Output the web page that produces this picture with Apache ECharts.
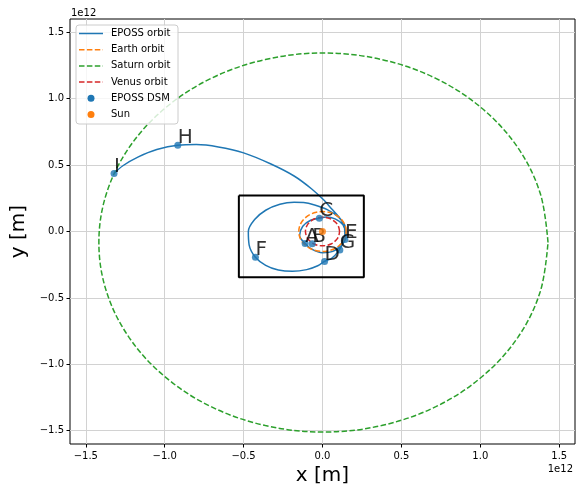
<!DOCTYPE html>
<html>
<head>
<meta charset="utf-8">
<script src="https://cdn.jsdelivr.net/npm/echarts@6/dist/echarts.min.js"></script>
<style>
  html, body { margin: 0; padding: 0; background: #ffffff; }
  #chart { width: 576px; height: 488px; }
</style>
</head>
<body>
<div id="chart"></div>
<script>
// All positions are in units of 1e12 m (heliocentric ecliptic frame).
const xTickValues = [-1.5, -1.0, -0.5, 0.0, 0.5, 1.0, 1.5];
const yTickValues = [-1.5, -1.0, -0.5, 0.0, 0.5, 1.0, 1.5];
const axisScaleText = '1e12';

// Spacecraft trajectory: inner loops near Earth, resonant loop, then transfer arc out to Saturn.
const epossOrbit = [
  [0.120, -0.090], [0.145, -0.020], [0.130, 0.050], [0.080, 0.095], [0.025, 0.110],
  [-0.020, 0.100], [-0.075, 0.085], [-0.125, 0.040], [-0.145, -0.030], [-0.110, -0.090],
  [-0.065, -0.135], [0.000, -0.160], [0.065, -0.150], [0.120, -0.105], [0.150, -0.030],
  [0.140, 0.050], [0.100, 0.110], [0.030, 0.165], [-0.050, 0.200], [-0.120, 0.218],
  [-0.180, 0.220], [-0.270, 0.205], [-0.360, 0.160], [-0.430, 0.090], [-0.470, 0.000],
  [-0.465, -0.100], [-0.425, -0.194], [-0.360, -0.255], [-0.280, -0.290], [-0.190, -0.300],
  [-0.100, -0.287], [-0.030, -0.258], [0.013, -0.225], [0.060, -0.200], [0.100, -0.150],
  [0.128, -0.093], [0.142, -0.020], [0.133, 0.055], [0.100, 0.115], [0.062, 0.165],
  [0.010, 0.235], [-0.070, 0.322], [-0.180, 0.418], [-0.330, 0.510], [-0.500, 0.592],
  [-0.660, 0.637], [-0.800, 0.655], [-0.917, 0.650], [-1.050, 0.617], [-1.170, 0.560],
  [-1.265, 0.495], [-1.321, 0.436]
];

const earthOrbit = [
  [0.150, 0.000], [0.145, 0.039], [0.130, 0.075], [0.106, 0.106], [0.075, 0.130],
  [0.039, 0.145], [0.000, 0.150], [-0.039, 0.145], [-0.075, 0.130], [-0.106, 0.106],
  [-0.130, 0.075], [-0.145, 0.039], [-0.150, 0.000], [-0.145, -0.039], [-0.130, -0.075],
  [-0.106, -0.106], [-0.075, -0.130], [-0.039, -0.145], [0.000, -0.150], [0.039, -0.145],
  [0.075, -0.130], [0.106, -0.106], [0.130, -0.075], [0.145, -0.039], [0.150, 0.000]
];

const saturnOrbit = [
  [1.429, -0.083], [1.380, 0.286], [1.238, 0.631], [1.012, 0.926], [0.718, 1.153],
  [0.374, 1.295], [0.006, 1.344], [-0.362, 1.295], [-0.706, 1.153], [-1.000, 0.926],
  [-1.226, 0.631], [-1.369, 0.286], [-1.417, -0.083], [-1.369, -0.452], [-1.226, -0.797],
  [-1.000, -1.092], [-0.706, -1.319], [-0.362, -1.461], [0.006, -1.510], [0.374, -1.461],
  [0.718, -1.319], [1.012, -1.092], [1.238, -0.797], [1.380, -0.452], [1.429, -0.083]
];

const venusOrbit = [
  [0.108, 0.000], [0.104, 0.028], [0.094, 0.054], [0.076, 0.076], [0.054, 0.094],
  [0.028, 0.104], [0.000, 0.108], [-0.028, 0.104], [-0.054, 0.094], [-0.076, 0.076],
  [-0.094, 0.054], [-0.104, 0.028], [-0.108, 0.000], [-0.104, -0.028], [-0.094, -0.054],
  [-0.076, -0.076], [-0.054, -0.094], [-0.028, -0.104], [0.000, -0.108], [0.028, -0.104],
  [0.054, -0.094], [0.076, -0.076], [0.094, -0.054], [0.104, -0.028], [0.108, 0.000]
];

// Deep-space manoeuvre points
const dsmNames = ['A', 'B', 'C', 'D', 'E', 'F', 'G', 'H', 'I'];
const dsmX = [-0.110, -0.065, -0.020, 0.013, 0.142, -0.425, 0.110, -0.917, -1.321];
const dsmY = [-0.090, -0.092, 0.100, -0.225, -0.060, -0.194, -0.140, 0.650, 0.436];

const sunPosition = [[0.0, 0.0]];

// Inner-system zoom frame
const frameCorners = [[-0.530, 0.272], [0.262, 0.272], [0.262, -0.345], [-0.530, -0.345], [-0.530, 0.272]];

const C_BLUE = '#1f77b4', C_ORANGE = '#ff7f0e', C_GREEN = '#2ca02c', C_RED = '#d62728';
const DASH = [5.5, 2.4];
const FONT = 'DejaVu Sans';

function tickFmt(v) {
  const s = Math.abs(v).toFixed(1);
  return v < -1e-9 ? '\u2212' + s : s;
}

function orbitSeries(name, data, color, dashed, z) {
  return {
    name: name, type: 'line', data: data, showSymbol: false, smooth: 0.35,
    clip: true, z: z, animation: false,
    lineStyle: { color: color, width: 1.5, type: dashed ? DASH : 'solid' }
  };
}

const legendItems = [
  { kind: 'line', color: C_BLUE, dashed: false, text: 'EPOSS orbit' },
  { kind: 'line', color: C_ORANGE, dashed: true, text: 'Earth orbit' },
  { kind: 'line', color: C_GREEN, dashed: true, text: 'Saturn orbit' },
  { kind: 'line', color: C_RED, dashed: true, text: 'Venus orbit' },
  { kind: 'dot', color: C_BLUE, text: 'EPOSS DSM' },
  { kind: 'dot', color: C_ORANGE, text: 'Sun' }
];

// Legend drawn as graphic elements, in pixel offsets from its top-left corner
const LX = 76, LY = 25, LZ = 100;
const legendElements = [{
  type: 'rect', z: LZ, x: LX, y: LY,
  shape: { x: 0, y: 0, width: 102, height: 99, r: 3 },
  style: { fill: 'rgba(255,255,255,0.8)', stroke: '#cccccc', lineWidth: 1 }
}];
legendItems.forEach(function (it, i) {
  const cy = LY + 8.5 + i * 16.2;
  if (it.kind === 'line') {
    legendElements.push({
      type: 'line', z: LZ + 1,
      shape: { x1: LX + 3, y1: cy, x2: LX + 27, y2: cy },
      style: { stroke: it.color, lineWidth: 1.5, lineDash: it.dashed ? DASH : null }
    });
  } else {
    legendElements.push({
      type: 'circle', z: LZ + 1,
      shape: { cx: LX + 15, cy: cy, r: 3.5 },
      style: { fill: it.color }
    });
  }
  legendElements.push({
    type: 'text', z: LZ + 1, x: LX + 35, y: cy,
    style: { text: it.text, fontFamily: FONT, fontSize: 10, fill: '#000', verticalAlign: 'middle', align: 'left' }
  });
});

const chart = echarts.init(document.getElementById('chart'), null, { renderer: 'canvas' });

chart.setOption({
  animation: false,
  backgroundColor: '#ffffff',
  grid: {
    left: 70, right: 1, top: 19, bottom: 44,
    outerBoundsMode: 'none', containLabel: false,
    show: true, borderColor: '#000000', borderWidth: 1, backgroundColor: 'transparent'
  },
  xAxis: {
    type: 'value', min: -1.6, max: 1.6,
    name: 'x [m]', nameLocation: 'middle', nameGap: 20,
    nameTextStyle: { fontFamily: FONT, fontSize: 20, color: '#000' },
    axisLine: { show: false, onZero: false },
    axisTick: { show: true, length: 3.5, lineStyle: { color: '#000', width: 1 }, customValues: xTickValues },
    axisLabel: { customValues: xTickValues, formatter: tickFmt, fontFamily: FONT, fontSize: 10, color: '#000', margin: 7 },
    splitLine: { show: true, lineStyle: { color: '#d2d2d2', width: 1 } }
  },
  yAxis: {
    type: 'value', min: -1.6, max: 1.6,
    name: 'y [m]', nameLocation: 'middle', nameGap: 38,
    nameTextStyle: { fontFamily: FONT, fontSize: 20, color: '#000' },
    axisLine: { show: false, onZero: false },
    axisTick: { show: true, length: 3.5, lineStyle: { color: '#000', width: 1 }, customValues: yTickValues },
    axisLabel: { customValues: yTickValues, formatter: tickFmt, fontFamily: FONT, fontSize: 10, color: '#000', margin: 6 },
    splitLine: { show: true, lineStyle: { color: '#d2d2d2', width: 1 } }
  },
  series: [
    orbitSeries('EPOSS orbit', epossOrbit, C_BLUE, false, 3),
    orbitSeries('Earth orbit', earthOrbit, C_ORANGE, true, 4),
    orbitSeries('Saturn orbit', saturnOrbit, C_GREEN, true, 5),
    orbitSeries('Venus orbit', venusOrbit, C_RED, true, 6),
    {
      name: 'EPOSS DSM', type: 'scatter', z: 7, symbolSize: 7,
      itemStyle: { color: C_BLUE },
      data: dsmNames.map(function (n, i) { return { name: n, value: [dsmX[i], dsmY[i]] }; }),
      label: {
        show: true, formatter: '{b}', position: [3.5, 3.5], offset: [0, 3],
        align: 'left', verticalAlign: 'bottom',
        fontFamily: FONT, fontSize: 20, color: '#000'
      }
    },
    {
      name: 'Sun', type: 'scatter', z: 8, symbolSize: 7,
      itemStyle: { color: C_ORANGE },
      data: sunPosition
    },
    {
      name: 'frame', type: 'line', z: 9, data: frameCorners, showSymbol: false,
      lineStyle: { color: '#000', width: 2 }
    }
  ],
  graphic: legendElements.concat([
    {
      type: 'text', x: 71, y: 13, z: 100,
      style: { text: axisScaleText, fontFamily: FONT, fontSize: 10, fill: '#000', verticalAlign: 'middle', align: 'left' }
    },
    {
      type: 'text', x: 573, y: 469, z: 100,
      style: { text: axisScaleText, fontFamily: FONT, fontSize: 10, fill: '#000', verticalAlign: 'middle', align: 'right' }
    }
  ])
});
</script>
</body>
</html>
